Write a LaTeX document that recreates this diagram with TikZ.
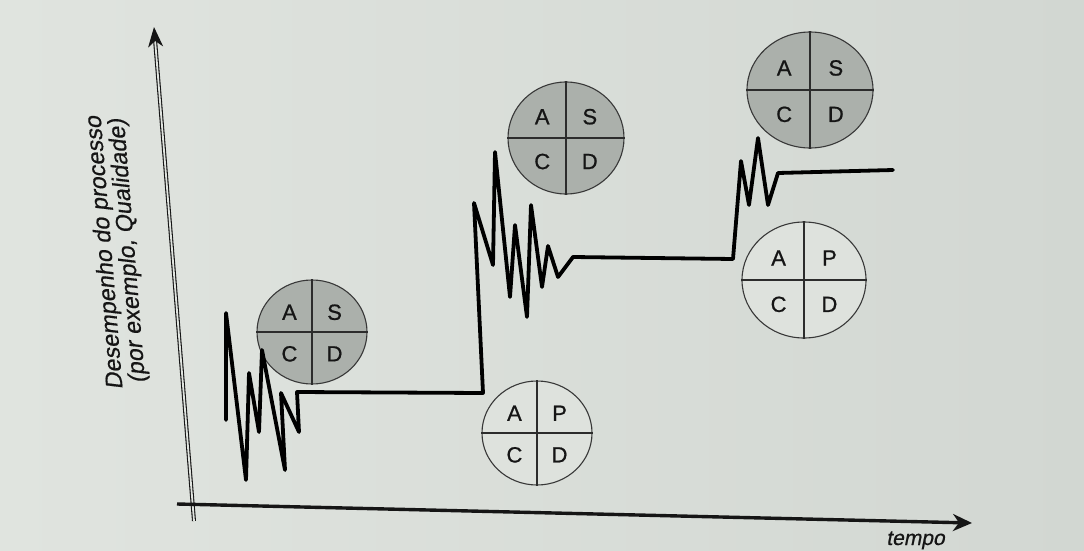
\documentclass[tikz,border=0pt]{standalone}
\usepackage{fontspec}
\setsansfont{Liberation Sans}
\newfontfamily\ringfont[FakeBold=0.8]{Liberation Sans}
\newfontfamily\labelfont[FakeBold=0.5,FakeSlant=0.2]{Liberation Sans}
\usetikzlibrary{shapes.geometric,arrows.meta}
\definecolor{bgl}{HTML}{E0E4DF}
\definecolor{bgr}{HTML}{D2D7D2}
\definecolor{ringgray}{HTML}{ABB0AB}
\definecolor{ringwhite}{HTML}{DEE2DD}
\definecolor{ink}{HTML}{151515}
\newcommand\pdcaring[7]{%
  \node[ring, fill=#6, minimum width=#4*2pt, minimum height=#5*2pt] (#1) at (#2,#3) {};
  \draw[crossline] (#1.north) -- (#1.south);
  \draw[crossline] (#1.west) -- (#1.east);
  \node[letter] (#1-a) at ([shift={(-0.41*#4,-0.38*#5)}]#1.center) {A};
  \node[letter] (#1-b) at ([shift={(0.41*#4,-0.38*#5)}]#1.center) {#7};
  \node[letter] (#1-c) at ([shift={(-0.41*#4,0.42*#5)}]#1.center) {C};
  \node[letter] (#1-d) at ([shift={(0.41*#4,0.42*#5)}]#1.center) {D};
}
\begin{document}
\begin{tikzpicture}[x=1pt,y=-1pt,
  ring/.style={ellipse, draw=ink!85, line width=1.1pt, inner sep=0pt},
  crossline/.style={draw=ink!90, line width=1.1pt},
  letter/.style={font=\ringfont\fontsize{22}{22}\selectfont, text=ink, inner sep=0pt},
  curve/.style={draw=black, line width=3.8pt, line join=round, line cap=round},
  axislabel/.style={font=\labelfont\fontsize{23.5}{23}\selectfont, text=ink, align=center}]
\useasboundingbox (0,0) rectangle (1084,551);
\shade[left color=bgl, right color=bgr] (0,0) rectangle (1084,551);

% axes
\coordinate (ybot) at (194,521);
\coordinate (ytop) at (154,27);
\coordinate (xleft) at (177,504);
\coordinate (xright) at (972,523);
\draw[draw=ink, line width=1.1pt, double=bgl, double distance=1.8pt,
      -{Stealth[length=20pt,width=15pt,inset=6pt]}] (ybot) -- (ytop);
\draw[draw=ink, line width=3.4pt,
      -{Stealth[length=19pt,width=17pt,inset=6pt]}] (xleft) -- (xright);

\node[axislabel, rotate=90+4.6] (ylab) at (117,252)
  {Desempenho do processo\\(por exemplo, Qualidade)};
\node[font=\labelfont\fontsize{21}{21}\selectfont, text=ink, anchor=base west, inner sep=0pt]
  (tempo) at (886,545) {tempo};

% PDCA / SDCA circles
\pdcaring{c1}{312}{332}{55}{52}{ringgray}{S}
\pdcaring{c2}{537}{433}{55}{52}{ringwhite}{P}
\pdcaring{c3}{566}{138}{58}{56}{ringgray}{S}
\pdcaring{c4}{810}{90}{63}{58}{ringgray}{S}
\pdcaring{c5}{804}{280}{62}{58}{ringwhite}{P}

% performance curve
\draw[curve] (226,420) -- (226,313) -- (246,480) -- (249,373) -- (259,432)
  -- (262,350) -- (285,470) -- (281,393) -- (299,432) -- (297,392)
  -- (483,393) -- (474,203) -- (493,265) -- (495,152) -- (510,297)
  -- (515,225) -- (527,317) -- (531,205) -- (542,287) -- (548,246)
  -- (558,277) -- (573,257) -- (733,259) -- (741,161) -- (749,205)
  -- (758,138) -- (768,205) -- (778,173) -- (893,170);
\end{tikzpicture}
\end{document}
